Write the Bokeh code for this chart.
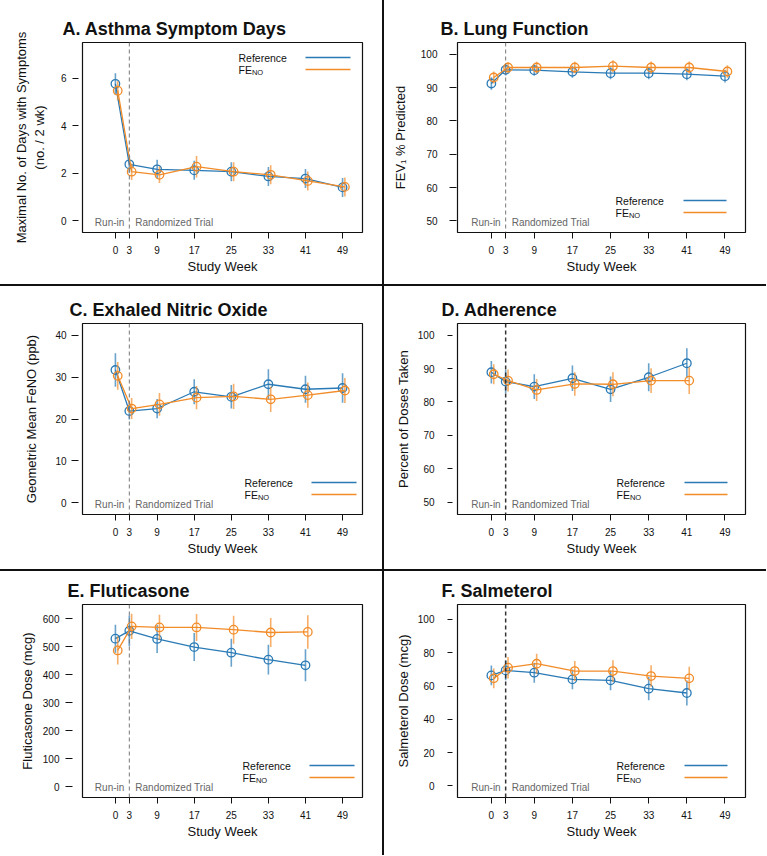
from bokeh.plotting import figure
from bokeh.layouts import gridplot
from bokeh.models import Span, Label, Arrow, FixedTicker, Range1d
from bokeh.embed import file_html
from bokeh.resources import INLINE

# ---------------- data ----------------
weeks = [0, 3, 9, 17, 25, 33, 41, 49]
weeks_short = [0, 3, 9, 17, 25, 33, 41]
week_ticks = [0, 3, 9, 17, 25, 33, 41, 49]

# A. Asthma symptom days
symptom_ref = [5.76, 2.37, 2.16, 2.12, 2.06, 1.86, 1.77, 1.40]
symptom_ref_err = [0.45, 0.35, 0.40, 0.40, 0.40, 0.40, 0.40, 0.40]
symptom_feno = [5.47, 2.06, 1.93, 2.27, 2.06, 1.93, 1.67, 1.42]
symptom_feno_err = [0.40, 0.35, 0.35, 0.45, 0.40, 0.40, 0.40, 0.40]
symptom_ticks = [0, 2, 4, 6]

# B. Lung function
fev_ref = [91.2, 95.3, 95.2, 94.7, 94.3, 94.3, 94.0, 93.4]
fev_ref_err = [1.9, 1.7, 1.7, 1.8, 1.8, 1.8, 1.8, 1.9]
fev_feno = [93.0, 96.0, 96.0, 96.0, 96.4, 96.0, 96.0, 94.8]
fev_feno_err = [1.8, 1.6, 1.7, 1.7, 1.8, 1.8, 1.8, 1.9]
fev_ticks = [50, 60, 70, 80, 90, 100]

# C. Exhaled nitric oxide
no_ref = [31.7, 21.9, 22.5, 26.5, 25.3, 28.3, 27.1, 27.4]
no_ref_err = [4.0, 2.0, 2.3, 3.0, 2.8, 3.6, 3.2, 3.5]
no_feno = [30.3, 22.5, 23.5, 25.1, 25.4, 24.7, 25.7, 26.8]
no_feno_err = [3.3, 2.5, 2.7, 2.8, 3.0, 3.0, 3.0, 3.0]
no_ticks = [0, 10, 20, 30, 40]

# D. Adherence
adh_ref = [88.9, 86.1, 84.6, 87.1, 83.8, 87.4, 91.6]
adh_ref_err = [3.4, 3.5, 3.7, 3.8, 3.8, 4.2, 4.5]
adh_feno = [88.3, 86.4, 83.6, 85.4, 85.3, 86.4, 86.4]
adh_feno_err = [3.0, 3.3, 3.3, 3.5, 3.6, 3.7, 4.0]
adh_ticks = [50, 60, 70, 80, 90, 100]

# E. Fluticasone
flu_ref = [528, 556, 527, 498, 478, 453, 433]
flu_ref_err = [50, 55, 50, 50, 50, 53, 57]
flu_feno = [486, 572, 568, 568, 560, 550, 552]
flu_feno_err = [50, 45, 45, 48, 50, 52, 60]
flu_ticks = [0, 100, 200, 300, 400, 500, 600]

# F. Salmeterol
sal_ref = [66.4, 69.4, 68.0, 64.0, 63.4, 58.4, 55.8]
sal_ref_err = [6.0, 6.0, 6.0, 6.0, 6.0, 7.0, 7.5]
sal_feno = [64.6, 71.0, 73.4, 69.0, 69.0, 66.0, 64.6]
sal_feno_err = [6.0, 6.5, 6.0, 6.0, 6.5, 6.5, 7.0]
sal_ticks = [0, 20, 40, 60, 80, 100]

# ---------------- style ----------------
BLUE = "#2a7ab5"
ORANGE = "#f28c28"
FONT = "Liberation Sans"
ORANGE_SHIFT = 0.5
SEP = "#111111"


def panel(size, title, title_off, ylabel, yrange, yticks, x, ref, ref_err, feno, feno_err,
          borders, yt, legend_top, leg, dash_dark, shadow):
    W, H = size
    L, R, T, B = borders
    p = figure(width=W, height=H, output_backend="svg", toolbar_location=None,
               x_range=Range1d(-7.1, 53.3), y_range=Range1d(*yrange),
               min_border_left=L, min_border_right=R,
               min_border_top=T, min_border_bottom=B, title=title)
    if shadow:
        p.styles = {"box-shadow": shadow}
    fw = W - L - R
    fh = H - T - B
    p.title.text_font = FONT
    p.title.text_font_size = "18px"
    p.title.text_font_style = "bold"
    p.title.text_color = "#111111"
    p.title.align = "left"
    p.title.offset = title_off
    p.title.standoff = 8

    p.outline_line_color = "#111111"
    p.outline_line_width = 1.2
    p.outline_line_alpha = 1
    p.xgrid.visible = False
    p.ygrid.visible = False

    p.xaxis.ticker = FixedTicker(ticks=week_ticks)
    p.yaxis.ticker = FixedTicker(ticks=yticks)
    p.xaxis.axis_label = "Study Week"
    p.yaxis.axis_label = ylabel
    for ax in p.axis:
        ax.axis_line_color = None
        ax.minor_tick_line_color = None
        ax.major_tick_line_color = "#111111"
        ax.major_tick_line_width = 1
        ax.major_label_text_font = FONT
        ax.major_label_text_font_size = "10px"
        ax.major_label_text_color = "#111111"
        ax.axis_label_text_font = FONT
        ax.axis_label_text_font_size = "13px"
        ax.axis_label_text_font_style = "normal"
        ax.axis_label_text_color = "#111111"
    tin, tout, lstand, astand = yt
    p.yaxis.major_tick_in = tin
    p.yaxis.major_tick_out = tout
    p.yaxis.major_label_standoff = lstand
    p.yaxis.axis_label_standoff = astand
    p.xaxis.major_tick_in = 0
    p.xaxis.major_tick_out = 6
    p.xaxis.major_label_standoff = 7
    p.xaxis.axis_label_standoff = 2

    # divider between run-in and randomized trial
    p.add_layout(Span(location=3, dimension="height",
                      line_color="#333333" if dash_dark else "#777777",
                      line_width=1.5 if dash_dark else 1, line_dash="4 3"))
    p.add_layout(Label(x=3, y=10, x_units="data", y_units="screen", x_offset=-5,
                       text="Run-in", text_align="right", text_baseline="middle",
                       text_font=FONT, text_font_size="10px", text_color="#666666"))
    p.add_layout(Label(x=3, y=10, x_units="data", y_units="screen", x_offset=6,
                       text="Randomized Trial", text_align="left", text_baseline="middle",
                       text_font=FONT, text_font_size="10px", text_color="#666666"))

    xo = [w + ORANGE_SHIFT for w in x]
    series = [(x, ref, ref_err, BLUE), (xo, feno, feno_err, ORANGE)]
    for xs, vals, errs, col in series:
        lo = [v - e for v, e in zip(vals, errs)]
        hi = [v + e for v, e in zip(vals, errs)]
        p.segment(x0=xs, y0=lo, x1=xs, y1=hi, line_color=col, line_alpha=0.7, line_width=1.6)
        p.line(xs, vals, line_color=col, line_width=1.3)
        p.scatter(xs, vals, marker="circle", size=8.5, fill_color=None,
                  line_color=col, line_width=1.3)

    # legend (R style: text, then line sample on the right)
    tx, l0, l1 = leg
    if legend_top:
        y1, y2 = fh - 15, fh - 27
    else:
        y1, y2 = 32, 20
    tx = fw - tx
    p.add_layout(Label(x=tx, y=y1, x_units="screen", y_units="screen", text="Reference",
                       text_align="left", text_baseline="middle", text_font=FONT,
                       text_font_size="10.5px", text_color="#111111"))
    p.add_layout(Label(x=tx, y=y2, x_units="screen", y_units="screen", text="FE",
                       text_align="left", text_baseline="middle", text_font=FONT,
                       text_font_size="10.5px", text_color="#111111"))
    p.add_layout(Label(x=tx + 13.4, y=y2 - 3, x_units="screen", y_units="screen", text="NO",
                       text_align="left", text_baseline="middle", text_font=FONT,
                       text_font_size="7.5px", text_color="#111111"))
    for yy, col in ((y1, BLUE), (y2, ORANGE)):
        p.add_layout(Arrow(x_start=fw - l0, y_start=yy, x_end=fw - l1, y_end=yy,
                           start_units="screen", end_units="screen", end=None,
                           line_color=col, line_width=1.5))
    return p


SH_RIGHT = "2px 0 0 0 %s" % SEP
SH_BOTTOM = "0 2px 0 0 %s" % SEP
SH_BOTH = "2px 0 0 0 %s, 0 2px 0 0 %s, 2px 2px 0 0 %s" % (SEP, SEP, SEP)

pA = panel((382, 284), "A. Asthma Symptom Days", -20,
           "Maximal No. of Days with Symptoms\n(no. / 2 wk)", (-0.5, 7.5), symptom_ticks,
           weeks, symptom_ref, symptom_ref_err, symptom_feno, symptom_feno_err,
           (82, 20, 42, 52), (-4, 10, 6, 11), True, (124, 57, 12), False, SH_BOTH)
pB = panel((382, 284), "B. Lung Function", -17, "FEV\u2081 % Predicted", (46.5, 103.5), fev_ticks,
           weeks, fev_ref, fev_ref_err, fev_feno, fev_feno_err,
           (73, 21, 42, 52), (-1, 8, 12, 10), False, (130, 62, 19), False, SH_BOTTOM)
pC = panel((382, 283), "C. Exhaled Nitric Oxide", -13, "Geometric Mean FeNO (ppb)",
           (-2.8, 42.8), no_ticks,
           weeks, no_ref, no_ref_err, no_feno, no_feno_err,
           (76, 20, 37, 55), (-4, 11, 5, 13), False, (124, 57, 12), False, SH_BOTH)
pD = panel((382, 283), "D. Adherence", -16, "Percent of Doses Taken", (46.3, 103.5), adh_ticks,
           weeks_short, adh_ref, adh_ref_err, adh_feno, adh_feno_err,
           (72, 21, 37, 54), (-5, 10, 13, 4), False, (130, 62, 19), True, SH_BOTTOM)
pE = panel((382, 284), "E. Fluticasone", -15, "Fluticasone Dose (mcg)", (-39, 650), flu_ticks,
           weeks_short, flu_ref, flu_ref_err, flu_feno, flu_feno_err,
           (78, 15, 33, 58), (-10, 17, 6, 5), False, (129, 62, 17), False, SH_RIGHT)
pF = panel((382, 284), "F. Salmeterol", -16, "Salmeterol Dose (mcg)", (-7, 109), sal_ticks,
           weeks_short, sal_ref, sal_ref_err, sal_feno, sal_feno_err,
           (72, 21, 32, 58), (-5, 10, 13, 4), False, (130, 62, 19), True, None)

grid = gridplot([[pA, pB], [pC, pD], [pE, pF]], toolbar_location=None)
grid.spacing = 2

open("out.html", "w").write(file_html(grid, INLINE))
